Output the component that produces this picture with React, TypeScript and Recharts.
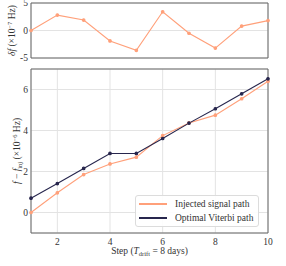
import React from 'react';
import { LineChart, Line, XAxis, YAxis, CartesianGrid, ReferenceArea, Label } from 'recharts';

const steps = [1, 2, 3, 4, 5, 6, 7, 8, 9, 10];
const deltaF = [0, 2.8, 1.9, -1.9, -3.6, 3.4, -0.5, -3.2, 0.8, 1.8];
const injected = [0, 0.96, 1.85, 2.37, 2.7, 3.75, 4.37, 4.75, 5.55, 6.4];
const viterbi = [0.7, 1.41, 2.15, 2.88, 2.88, 3.61, 4.36, 5.06, 5.79, 6.52];
const xTicks = [2, 4, 6, 8, 10];
const topYTicks = [-5, 0, 5];
const bottomYTicks = [0, 2, 4, 6];
const seriesNames = ['Injected signal path', 'Optimal Viterbi path'];

const topData = steps.map((s, i) => ({ step: s, df: deltaF[i] }));
const bottomData = steps.map((s, i) => ({ step: s, inj: injected[i], vit: viterbi[i] }));

const ORANGE = '#ffa07a';
const NAVY = '#27264d';
const FONT = 'Liberation Serif, DejaVu Serif, serif';
const TEXT = '#333';

const tickStyle = { fontSize: 9.5, fill: TEXT, fontFamily: FONT };

const TopYLabel = (props: any) => {
  const vb = props.viewBox || { y: 0, height: 0 };
  const cx = 12;
  const cy = vb.y + vb.height / 2;
  return (
    <text x={cx} y={cy} transform={`rotate(-90 ${cx} ${cy})`} textAnchor="middle" dominantBaseline="central"
      fontFamily={FONT} fontSize={9.5} fill={TEXT}>
      <tspan fontStyle="italic">δf</tspan>
      <tspan> (×10</tspan>
      <tspan dy={-3.5} fontSize={6.5}>−7</tspan>
      <tspan dy={3.5}> Hz)</tspan>
    </text>
  );
};

const BottomYLabel = (props: any) => {
  const vb = props.viewBox || { y: 0, height: 0 };
  const cx = 17;
  const cy = vb.y + vb.height / 2;
  return (
    <text x={cx} y={cy} transform={`rotate(-90 ${cx} ${cy})`} textAnchor="middle" dominantBaseline="central"
      fontFamily={FONT} fontSize={9.5} fill={TEXT}>
      <tspan fontStyle="italic">f</tspan>
      <tspan> − </tspan>
      <tspan fontStyle="italic">f</tspan>
      <tspan dy={2} fontSize={6.5}>inj</tspan>
      <tspan dy={-2}> (×10</tspan>
      <tspan dy={-3.5} fontSize={6.5}>−6</tspan>
      <tspan dy={3.5}> Hz)</tspan>
    </text>
  );
};

const XLabel = (props: any) => {
  const vb = props.viewBox || { x: 0, width: 0 };
  const cx = vb.x + vb.width / 2;
  return (
    <text x={cx} y={189} textAnchor="middle" dominantBaseline="central" fontFamily={FONT} fontSize={9.5} fill={TEXT}>
      <tspan>Step (</tspan>
      <tspan fontStyle="italic">T</tspan>
      <tspan dy={2} fontSize={6.5}>drift</tspan>
      <tspan dy={-2}> = 8 days)</tspan>
    </text>
  );
};

const legendItems = [
  { name: seriesNames[0], color: ORANGE },
  { name: seriesNames[1], color: NAVY },
];

const LegendBox = () => (
  <div style={{
    position: 'absolute', left: 135, top: 195,
    border: '1px solid #dcdcdc', borderRadius: 3, background: 'rgba(255,255,255,0.9)',
    padding: '1px 5px 1px 3px', fontFamily: FONT, fontSize: 9.5, color: TEXT, lineHeight: '14px',
    whiteSpace: 'nowrap',
  }}>
    {legendItems.map((it) => (
      <div key={it.name} style={{ display: 'flex', alignItems: 'center' }}>
        <span style={{ display: 'inline-block', width: 28, height: 1.5, background: it.color, marginRight: 8 }} />
        <span>{it.name}</span>
      </div>
    ))}
  </div>
);

export default function App() {
  return (
    <div style={{ position: 'absolute', left: 0, top: 0, width: 286, height: 266, background: '#fff' }}>
      <div style={{ position: 'absolute', left: 0, top: 0 }}>
        <LineChart width={286} height={62} data={topData} margin={{ top: 3, right: 18, bottom: 4, left: 0 }}>
          <CartesianGrid stroke="#e3e3e3" strokeWidth={1} />
          <XAxis dataKey="step" type="number" domain={[1, 10]} ticks={xTicks} tick={false} tickLine={false}
            axisLine={false} height={0} />
          <YAxis type="number" domain={[-5, 5]} ticks={topYTicks} width={31} tickLine={false} axisLine={false}
            tickSize={3} tickMargin={0} tick={tickStyle} interval={0}>
            <Label content={<TopYLabel />} />
          </YAxis>
          <ReferenceArea x1={1} x2={10} y1={-5} y2={5} fill="none" stroke="#666" strokeWidth={1} ifOverflow="visible" />
          <Line dataKey="df" stroke={ORANGE} strokeWidth={1.1} dot={{ r: 1.3, fill: ORANGE, stroke: ORANGE }}
            isAnimationActive={false} />
        </LineChart>
      </div>
      <div style={{ position: 'absolute', left: 0, top: 62 }}>
        <LineChart width={286} height={204} data={bottomData} margin={{ top: 7, right: 18, bottom: 0, left: 0 }}>
          <CartesianGrid stroke="#e3e3e3" strokeWidth={1} />
          <XAxis dataKey="step" type="number" domain={[1, 10]} ticks={xTicks} tickLine={false} axisLine={false}
            tickSize={3} tickMargin={2} tick={tickStyle} height={33} interval={0}>
            <Label content={<XLabel />} />
          </XAxis>
          <YAxis type="number" domain={[-1, 7]} ticks={bottomYTicks} width={31} tickLine={false} axisLine={false}
            tickSize={3} tickMargin={0} tick={tickStyle} interval={0}>
            <Label content={<BottomYLabel />} />
          </YAxis>
          <ReferenceArea x1={1} x2={10} y1={-1} y2={7} fill="none" stroke="#666" strokeWidth={1} ifOverflow="visible" />
          <Line dataKey="inj" name={seriesNames[0]} stroke={ORANGE} strokeWidth={1.1}
            dot={{ r: 1.3, fill: ORANGE, stroke: ORANGE }} isAnimationActive={false} />
          <Line dataKey="vit" name={seriesNames[1]} stroke={NAVY} strokeWidth={1.1}
            dot={{ r: 1.3, fill: NAVY, stroke: NAVY }} isAnimationActive={false} />
        </LineChart>
      </div>
      <LegendBox />
    </div>
  );
}
